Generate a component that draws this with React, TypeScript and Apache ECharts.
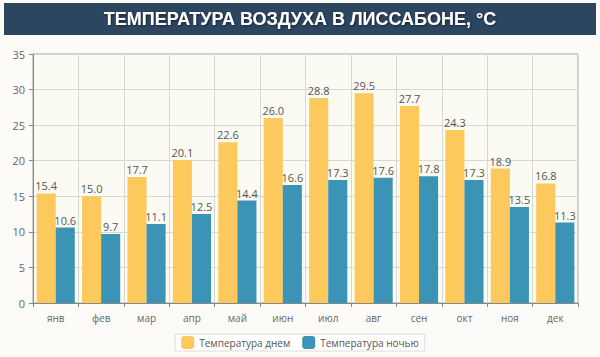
import React, { useEffect, useRef } from "react";
import * as echarts from "echarts";

const months = ["янв", "фев", "мар", "апр", "май", "июн", "июл", "авг", "сен", "окт", "ноя", "дек"];
const dayTemps = [15.4, 15.0, 17.7, 20.1, 22.6, 26.0, 28.8, 29.5, 27.7, 24.3, 18.9, 16.8];
const nightTemps = [10.6, 9.7, 11.1, 12.5, 14.4, 16.6, 17.3, 17.6, 17.8, 17.3, 13.5, 11.3];
const seriesNames = ["Температура днем", "Температура ночью"];
const titleText = "ТЕМПЕРАТУРА ВОЗДУХА В ЛИССАБОНЕ, °C";

export default function App() {
  const ref = useRef<HTMLDivElement>(null);
  useEffect(() => {
    document.body.style.margin = "0";
    const chart = echarts.init(ref.current!, null, { renderer: "svg" });
    const labelStyle = {
      show: true,
      position: "top" as const,
      color: "#555",
      fontSize: 11,
      fontFamily: "Open Sans",
      distance: 2,
      formatter: (p: any) => Number(p.value).toFixed(1),
    };
    chart.setOption({
      animation: false,
      backgroundColor: "#fcfbf7",
      graphic: [
        {
          type: "rect",
          shape: { x: 4, y: 3, width: 592, height: 32 },
          style: { fill: "#2d4660" },
        },
        {
          type: "text",
          x: 300,
          y: 19,
          style: {
            text: titleText,
            fill: "#ffffff",
            font: "bold 18px 'Liberation Sans', Arial, sans-serif",
            align: "center",
            verticalAlign: "middle",
            textShadowColor: "rgba(0,0,0,0.5)",
            textShadowBlur: 2,
            textShadowOffsetX: 1,
            textShadowOffsetY: 1,
          },
        },
      ],
      legend: {
        bottom: 6,
        left: "center",
        itemWidth: 13,
        itemHeight: 13,
        itemGap: 12,
        padding: [2, 6, 2, 6],
        borderColor: "#dddddd",
        borderWidth: 1,
        backgroundColor: "#ffffff",
        textStyle: { color: "#555", fontSize: 10, fontFamily: "Open Sans" },
        data: seriesNames,
      },
      grid: {
        left: 33,
        right: 22,
        top: 54,
        bottom: 54,
        show: true,
        backgroundColor: "#fbfbf3",
        borderColor: "#a0a0a0",
        borderWidth: 1,
      },
      xAxis: {
        type: "category",
        data: months,
        axisLine: { lineStyle: { color: "#888" } },
        axisTick: { show: true, length: 4, lineStyle: { color: "#888" } },
        splitLine: { show: true, lineStyle: { color: "#d8d8d0" } },
        axisLabel: { color: "#666", fontSize: 10, fontFamily: "Open Sans", margin: 10 },
      },
      yAxis: {
        type: "value",
        min: 0,
        max: 35,
        interval: 5,
        axisLine: { show: true, lineStyle: { color: "#888" } },
        axisTick: { show: true, length: 4, lineStyle: { color: "#888" } },
        splitLine: { show: true, lineStyle: { color: "#d8d8d0" } },
        axisLabel: { color: "#666", fontSize: 11, fontFamily: "Open Sans", margin: 8 },
      },
      series: [
        {
          name: seriesNames[0],
          type: "bar",
          data: dayTemps,
          itemStyle: { color: "#fdc95c" },
          barGap: "0%",
          barCategoryGap: "16%",
          label: labelStyle,
        },
        {
          name: seriesNames[1],
          type: "bar",
          data: nightTemps,
          itemStyle: { color: "#3b93b5" },
          label: labelStyle,
        },
      ],
    });
    return () => chart.dispose();
  }, []);
  return <div ref={ref} style={{ position: "absolute", left: 0, top: 0, width: 600, height: 357 }} />;
}
